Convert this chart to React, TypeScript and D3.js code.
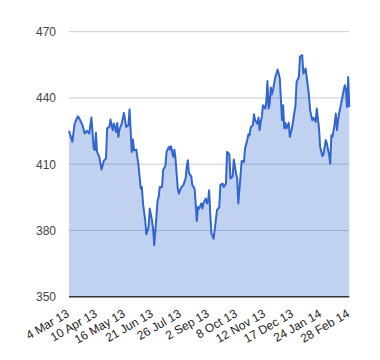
import React from "react";
import * as d3 from "d3";

// trading-day index (0..250) and closing value
const dayIndex = [
  0, 3, 5, 7, 8, 10, 12, 14, 16, 18, 20, 22, 23, 24, 25, 27, 29, 31, 33, 34,
  36, 37, 39, 40, 42, 43, 44, 45, 47, 49, 51, 53, 54, 56, 57, 58, 60, 62, 64, 65,
  66, 68, 69, 71, 72, 74, 75, 76, 78, 79, 80, 81, 83, 84, 86, 87, 89, 90, 91, 93,
  94, 95, 97, 98, 100, 102, 104, 105, 106, 107, 109, 110, 112, 113, 114, 115, 116, 118, 119, 120,
  122, 123, 124, 125, 126, 127, 129, 132, 134, 135, 137, 138, 140, 141, 143, 144, 146, 147, 149, 150,
  151, 153, 154, 156, 157, 159, 160, 161, 162, 164, 165, 166, 168, 169, 170, 171, 172, 173, 175, 176,
  177, 178, 179, 180, 181, 182, 184, 185, 186, 187, 188, 190, 191, 192, 193, 194, 196, 197, 199, 200,
  202, 203, 205, 206, 208, 209, 211, 212, 214, 215, 217, 218, 220, 221, 223, 224, 226, 227, 229, 230,
  232, 233, 234, 235, 237, 238, 239, 240, 241, 243, 245, 246, 247, 248, 249, 250,
];
const closeValues = [
  425.1, 420.1, 428.4, 430.7, 431.7, 429.9, 427.7, 423.9, 425.1, 423.9, 431.1, 417.1, 416.4, 424.2, 415.6, 413.3, 407.6, 411.5, 412.6, 426.2,
  426.9, 430.2, 425.4, 428.4, 424.6, 428.7, 422.4, 425.7, 428.4, 433.2, 426.9, 427.7, 434.8, 415.6, 421.2, 416.3, 416.6, 409.5, 399.0, 399.7,
  392.2, 384.6, 378.3, 381.6, 389.9, 384.6, 380.8, 373.3, 386.4, 393.7, 395.2, 399.7, 399.7, 407.3, 409.5, 415.6, 417.8, 416.6, 418.1, 413.3,
  416.6, 412.6, 399.0, 396.7, 399.4, 400.5, 403.5, 408.8, 411.8, 405.8, 404.6, 400.5, 399.0, 392.2, 384.3, 390.6, 389.9, 392.2, 389.9, 392.5,
  394.5, 392.2, 392.9, 398.2, 387.7, 378.7, 376.3, 389.2, 390.6, 400.5, 401.2, 399.7, 401.2, 415.6, 414.5, 403.5, 404.6, 412.1, 405.8, 403.5,
  392.2, 405.0, 411.5, 411.0, 417.1, 420.9, 423.6, 423.0, 426.6, 427.7, 432.6, 429.9, 428.4, 431.1, 425.4, 429.2, 431.4, 436.7, 435.2, 438.2,
  447.7, 435.2, 437.5, 444.7, 441.7, 443.8, 449.5, 451.1, 452.9, 451.1, 448.8, 429.9, 436.7, 426.2, 428.7, 426.2, 428.7, 422.4, 426.6, 429.9,
  436.7, 447.3, 449.5, 458.6, 459.4, 451.1, 453.3, 449.5, 441.3, 434.5, 429.9, 431.0, 429.2, 435.2, 426.2, 417.8, 413.6, 414.5, 420.9, 419.4,
  414.1, 410.3, 423.1, 422.4, 428.4, 432.9, 425.4, 429.9, 433.2, 438.2, 443.5, 445.8, 443.5, 435.9, 449.5, 435.9,
];
const tickDays = [0, 25, 50, 75, 100, 125, 150, 175, 200, 225, 250];
const tickLabels = [
  "4 Mar 13", "10 Apr 13", "16 May 13", "21 Jun 13", "26 Jul 13", "2 Sep 13",
  "8 Oct 13", "12 Nov 13", "17 Dec 13", "24 Jan 14", "28 Feb 14",
];
const yTicks = [350, 380, 410, 440, 470];

export default function App() {
  const W = 380, H = 360;
  const left = 69, right = 349.3, top = 31.7, bottom = 296.7;
  const x = d3.scaleLinear().domain([0, 250]).range([left, right]);
  const y = d3.scaleLinear().domain([350, 470]).range([bottom, top]);
  const data = dayIndex.map((d, i) => ({ d, v: closeValues[i] }));
  const area = d3.area<{ d: number; v: number }>()
    .x((p) => x(p.d)).y0(y(350)).y1((p) => y(p.v));
  const line = d3.line<{ d: number; v: number }>()
    .x((p) => x(p.d)).y((p) => y(p.v));
  const font = "'Liberation Sans', Arial, sans-serif";
  return (
    <svg width={W} height={H} style={{ position: "absolute", left: 0, top: 0, background: "#fff" }}>
      {yTicks.map((t) => (
        <g key={t}>
          {t !== 350 && (
            <line x1={left} x2={right} y1={y(t)} y2={y(t)} stroke="#cccccc" strokeWidth={1} />
          )}
          <text x={56} y={y(t) + 4.5} textAnchor="end" fontFamily={font} fontSize={12} fill="#444">
            {t}
          </text>
        </g>
      ))}
      <path d={area(data) || ""} fill="#3366cc" fillOpacity={0.3} />
      <path d={line(data) || ""} fill="none" stroke="#3366cc" strokeWidth={2} strokeLinejoin="round" />
      <line x1={left} x2={right} y1={y(350)} y2={y(350)} stroke="#333" strokeWidth={1.5} />
      {tickDays.map((t, i) => (
        <text
          key={t}
          transform={`translate(${x(t) + 1},${316}) rotate(-30)`}
          textAnchor="end"
          fontFamily={font}
          fontSize={12}
          fill="#222"
        >
          {tickLabels[i]}
        </text>
      ))}
    </svg>
  );
}
